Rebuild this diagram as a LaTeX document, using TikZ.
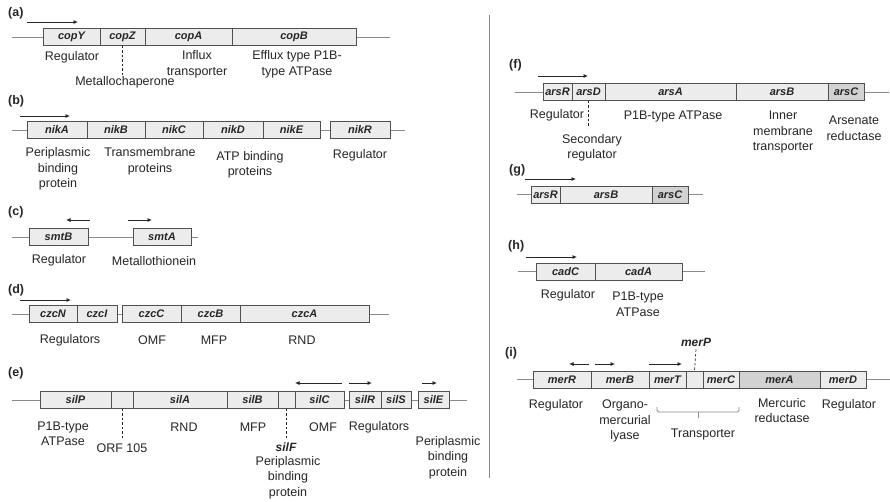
\documentclass[tikz,border=0pt]{standalone}
\usepackage{fontspec}
\setmainfont{Liberation Sans}
\usetikzlibrary{arrows.meta,calc}
\definecolor{genefill}{HTML}{ECECEC}
\definecolor{genedark}{HTML}{D2D2D2}
\definecolor{boxline}{HTML}{505050}
\definecolor{bbline}{HTML}{8A8A8A}
\definecolor{txt}{HTML}{262626}
\tikzset{
  gene/.style={draw=boxline, line width=0.9pt, fill=genefill, minimum height=17pt,
    inner sep=0pt, text=txt, font=\fontsize{11}{12}\selectfont\bfseries\itshape},
  dark/.style={fill=genedark},
  bb/.style={draw=bbline, line width=0.9pt},
  promo/.style={draw=txt, line width=0.8pt, -{Latex[length=4.5pt,width=4pt]}},
  dashln/.style={draw=txt, line width=0.7pt, dash pattern=on 2.5pt off 2pt},
  lab/.style={inner sep=0pt, text=txt, align=center, font=\fontsize{12.5}{15.5}\selectfont},
  glab/.style={inner sep=0pt, text=txt, font=\fontsize{12}{14}\selectfont\bfseries\itshape},
  plab/.style={inner sep=0pt, anchor=west, text=txt, font=\fontsize{12.5}{14}\selectfont\bfseries},
}
% gene box spanning x1..x2 at height y
\newcommand\genebox[6][]{\node[gene,#1, minimum width={#4-#3}] (#2) at ({(#3+#4)/2},#5) {#6};}
\begin{document}
\begin{tikzpicture}[x=1pt,y=-1pt]
\useasboundingbox[fill=white] (0,0) rectangle (890,501);

% divider between the two columns
\coordinate (divT) at (489,15);
\coordinate (divB) at (489,478);
\draw[bbline, line width=0.9pt] (divT) -- (divB);

% ---------------- (a) cop operon
\node[plab] (pa) at (8,13) {(a)};
\coordinate (aL) at (12,37); \coordinate (aR) at (390,37);
\draw[bb] (aL) -- (aR);
\genebox{copY}{43}{100}{37}{copY}
\genebox{copZ}{100}{145}{37}{copZ}
\genebox{copA}{145}{232}{37}{copA}
\genebox{copB}{232}{356}{37}{copB}
\coordinate (aP) at (27,22);
\draw[promo] (aP) -- ++(51,0);
\node[lab] (la1) at (72,57) {Regulator};
\node[lab] (la2) at (197,64.5) {Influx\\transporter};
\node[lab] (la3) at (297,64.5) {Efflux type P1B-\\type ATPase};
\node[lab] (la4) at (125,82) {Metallochaperone};
\draw[dashln] (copZ.south) -- (la4.north -| copZ.south);

% ---------------- (b) nik operon
\node[plab] (pb) at (8,101) {(b)};
\coordinate (bL) at (12,130); \coordinate (bR) at (405,130);
\draw[bb] (bL) -- (bR);
\genebox{nikA}{27}{87}{130}{nikA}
\genebox{nikB}{87}{145}{130}{nikB}
\genebox{nikC}{145}{203}{130}{nikC}
\genebox{nikD}{203}{263}{130}{nikD}
\genebox{nikE}{263}{320}{130}{nikE}
\genebox{nikR}{330}{390}{130}{nikR}
\coordinate (bP) at (20,116);
\draw[promo] (bP) -- ++(50,0);
\node[lab] (lb1) at (58,169) {Periplasmic\\binding\\protein};
\node[lab] (lb2) at (150,161.5) {Transmembrane\\proteins};
\node[lab] (lb3) at (250,165) {ATP binding\\proteins};
\node[lab] (lb4) at (360,155) {Regulator};

% ---------------- (c) smt locus
\node[plab] (pc) at (8,212) {(c)};
\coordinate (cL) at (12,237); \coordinate (cR) at (198,237);
\draw[bb] (cL) -- (cR);
\genebox{smtB}{29}{88}{237}{smtB}
\genebox{smtA}{133}{191}{237}{smtA}
\coordinate (cP1) at (90,220); \coordinate (cP2) at (128,220);
\draw[promo] (cP1) -- ++(-24,0);
\draw[promo] (cP2) -- ++(24,0);
\node[lab] (lc1) at (59,260) {Regulator};
\node[lab] (lc2) at (154,261) {Metallothionein};

% ---------------- (d) czc operon
\node[plab] (pd) at (8,290) {(d)};
\coordinate (dL) at (12,314); \coordinate (dR) at (389,314);
\draw[bb] (dL) -- (dR);
\genebox{czcN}{29}{77}{314}{czcN}
\genebox{czcI}{77}{117}{314}{czcI}
\genebox{czcC}{122}{181}{314}{czcC}
\genebox{czcB}{181}{240}{314}{czcB}
\genebox{czcA}{240}{369}{314}{czcA}
\coordinate (dP) at (20,300);
\draw[promo] (dP) -- ++(51,0);
\node[lab] (ld1) at (70,340) {Regulators};
\node[lab] (ld2) at (152,340) {OMF};
\node[lab] (ld3) at (214,340) {MFP};
\node[lab] (ld4) at (302,340) {RND};

% ---------------- (e) sil operon
\node[plab] (pe) at (8,373) {(e)};
\coordinate (eL) at (12,400); \coordinate (eR) at (467,400);
\draw[bb] (eL) -- (eR);
\genebox{silP}{40}{111}{400}{silP}
\genebox{orf}{111}{133}{400}{}
\genebox{silA}{133}{227}{400}{silA}
\genebox{silB}{227}{278}{400}{silB}
\genebox{silF}{278}{295}{400}{}
\genebox{silC}{295}{344}{400}{silC}
\genebox{silR}{349}{381}{400}{silR}
\genebox{silS}{381}{411}{400}{silS}
\genebox{silE}{418}{449}{400}{silE}
\coordinate (eP1) at (342,383); \coordinate (eP2) at (349,383); \coordinate (eP3) at (422,383);
\draw[promo] (eP1) -- ++(-47,0);
\draw[promo] (eP2) -- ++(23,0);
\draw[promo] (eP3) -- ++(15,0);
\node[lab] (le1) at (63,434) {P1B-type\\ATPase};
\node[lab] (le2) at (122,448) {ORF 105};
\node[lab] (le3) at (184,427) {RND};
\node[lab] (le4) at (253,427) {MFP};
\node[glab] (le5) at (286,447) {silF};
\node[lab] (le6) at (288,477.5) {Periplasmic\\binding\\protein};
\node[lab] (le7) at (323,427) {OMF};
\node[lab] (le8) at (379,427) {Regulators};
\node[lab] (le9) at (448,457.5) {Periplasmic\\binding\\protein};
\draw[dashln] (orf.south) -- ++(0,29);
\draw[dashln] (silF.south) -- ++(0,29);

% ---------------- (f) ars operon
\node[plab] (pf) at (509,65) {(f)};
\coordinate (fL) at (515,92); \coordinate (fR) at (889,92);
\draw[bb] (fL) -- (fR);
\genebox{fR}{543}{572}{92}{arsR}
\genebox{fD}{572}{605}{92}{arsD}
\genebox{fA}{605}{736}{92}{arsA}
\genebox{fB}{736}{828}{92}{arsB}
\genebox[dark]{fC}{828}{864}{92}{arsC}
\coordinate (fP) at (538,76);
\draw[promo] (fP) -- ++(50,0);
\node[lab] (lf1) at (557,115) {Regulator};
\node[lab] (lf2) at (592,148) {Secondary\\regulator};
\node[lab] (lf3) at (673,116) {P1B-type ATPase};
\node[lab] (lf4) at (783,132) {Inner\\membrane\\transporter};
\node[lab] (lf5) at (854,128.5) {Arsenate\\reductase};
\draw[dashln] (fD.south) -- ++(0,27);

% ---------------- (g) short ars operon
\node[plab] (pg) at (509,170) {(g)};
\coordinate (gL) at (517,194.5); \coordinate (gR) at (703,194.5);
\draw[bb] (gL) -- (gR);
\genebox{gR}{531}{560}{194.5}{arsR}
\genebox{gB}{560}{652}{194.5}{arsB}
\genebox[dark]{gC}{652}{688}{194.5}{arsC}
\coordinate (gP) at (525,179);
\draw[promo] (gP) -- ++(51,0);

% ---------------- (h) cad operon
\node[plab] (ph) at (508,246) {(h)};
\coordinate (hL) at (518,271.5); \coordinate (hR) at (705,271.5);
\draw[bb] (hL) -- (hR);
\genebox{cadC}{536}{595}{271.5}{cadC}
\genebox{cadA}{595}{682}{271.5}{cadA}
\coordinate (hP) at (526,257);
\draw[promo] (hP) -- ++(51,0);
\node[lab] (lh1) at (568,295) {Regulator};
\node[lab] (lh2) at (638,304.5) {P1B-type\\ATPase};

% ---------------- (i) mer operon
\node[plab] (pi) at (505,353) {(i)};
\coordinate (iL) at (517,379.5); \coordinate (iR) at (890,379.5);
\draw[bb] (iL) -- (iR);
\genebox{merR}{533}{591}{379.5}{merR}
\genebox{merB}{591}{649}{379.5}{merB}
\genebox{merT}{649}{686}{379.5}{merT}
\genebox{merP}{686}{703}{379.5}{}
\genebox{merC}{703}{739}{379.5}{merC}
\genebox[dark]{merA}{739}{820}{379.5}{merA}
\genebox{merD}{820}{866}{379.5}{merD}
\coordinate (iP1) at (589,364); \coordinate (iP2) at (595,364); \coordinate (iP3) at (649,364);
\draw[promo] (iP1) -- ++(-20,0);
\draw[promo] (iP2) -- ++(20,0);
\draw[promo] (iP3) -- ++(33,0);
\node[glab] (li0) at (696,342) {merP};
\draw[dashln] (li0.south) ++(0,3) -- (merP.north);
\node[lab] (li1) at (556,405) {Regulator};
\node[lab] (li2) at (625,421) {Organo-\\mercurial\\lyase};
\node[lab] (li3) at (703,434) {Transporter};
\node[lab] (li4) at (782,410.5) {Mercuric\\reductase};
\node[lab] (li5) at (849,405) {Regulator};
% bracket grouping the transport genes
\coordinate (brL) at (657,407); \coordinate (brR) at (739,407); \coordinate (brM) at (698,412);
\draw[bbline, line width=0.8pt, rounded corners=1.5pt] (brL) -- ++(0,5) -- ($(brR)+(0,5)$) -- (brR);
\draw[bbline, line width=0.8pt] (brM) -- ++(0,6);
\end{tikzpicture}
\end{document}
